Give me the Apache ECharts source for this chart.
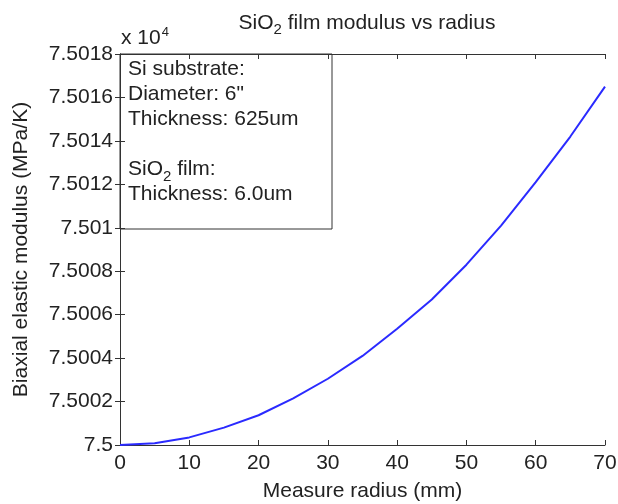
<!DOCTYPE html>
<html>
<head>
<meta charset="utf-8">
<script src="https://cdn.jsdelivr.net/npm/echarts@6/dist/echarts.min.js"></script>
<style>
  html, body { margin: 0; padding: 0; background: #fff; }
  #chart { width: 618px; height: 504px; }
</style>
</head>
<body>
<div id="chart"></div>
<script>
// radius in mm, modulus in units of 10^4 MPa/K
const radius = [0, 5, 10, 15, 20, 25, 30, 35, 40, 45, 50, 55, 60, 65, 70];
const modulus = [7.5, 7.500008, 7.500035, 7.50008, 7.500137, 7.500215, 7.500305,
  7.50041, 7.500535, 7.50067, 7.50083, 7.50101, 7.50121, 7.50142, 7.50165];
const xTicks = [0, 10, 20, 30, 40, 50, 60, 70];
const yTicks = [7.5, 7.5002, 7.5004, 7.5006, 7.5008, 7.501, 7.5012, 7.5014, 7.5016, 7.5018];
const infoLines = ['Si substrate:', 'Diameter: 6"', 'Thickness: 625um', '', '{t|SiO}{s|2}{t| film:}', 'Thickness: 6.0um'];

const FONT = 'Liberation Sans, Arial, sans-serif';
const INK = '#222';

const chart = echarts.init(document.getElementById('chart'));

const axisLine = { show: true, lineStyle: { color: '#333', width: 1 } };
const tickIn = { show: true, inside: true, length: 5, lineStyle: { color: '#333' } };

const option = {
  backgroundColor: '#fff',
  animation: false,
  textStyle: { fontFamily: FONT },
  title: {
    text: '{t|SiO}{s|2}{t| film modulus vs radius}',
    left: 362,
    top: 5,
    textAlign: 'center',
    textStyle: {
      fontWeight: 'normal',
      rich: {
        t: { fontFamily: FONT, fontSize: 21, fontWeight: 'normal', color: INK, lineHeight: 26 },
        s: { fontFamily: FONT, fontSize: 15, fontWeight: 'normal', color: INK, lineHeight: 26, padding: [14, 0, 0, 0] }
      }
    }
  },
  grid: { left: 120, right: 13, top: 54, bottom: 59, containLabel: false, outerBoundsMode: 'none' },
  xAxis: [{
    type: 'value',
    min: xTicks[0],
    max: xTicks[xTicks.length - 1],
    interval: 10,
    name: 'Measure radius (mm)',
    nameLocation: 'middle',
    nameGap: 36,
    nameTextStyle: { fontFamily: FONT, fontSize: 21, color: INK },
    axisLine,
    axisTick: tickIn,
    splitLine: { show: false },
    axisLabel: { fontFamily: FONT, fontSize: 21, color: INK, margin: 8 }
  }, {
    type: 'value',
    position: 'top',
    min: xTicks[0],
    max: xTicks[xTicks.length - 1],
    interval: 10,
    axisLine,
    axisTick: tickIn,
    splitLine: { show: false },
    axisLabel: { show: false }
  }],
  yAxis: [{
    type: 'value',
    min: yTicks[0],
    max: yTicks[yTicks.length - 1],
    interval: 0.0002,
    name: 'Biaxial elastic modulus (MPa/K)',
    nameLocation: 'middle',
    nameGap: 88,
    nameTextStyle: { fontFamily: FONT, fontSize: 21, color: INK },
    axisLine,
    axisTick: tickIn,
    splitLine: { show: false },
    axisLabel: {
      fontFamily: FONT, fontSize: 21, color: INK, margin: 7,
      formatter: v => String(+v.toFixed(4))
    }
  }, {
    type: 'value',
    position: 'right',
    min: yTicks[0],
    max: yTicks[yTicks.length - 1],
    interval: 0.0002,
    axisLine,
    axisTick: tickIn,
    splitLine: { show: false },
    axisLabel: { show: false }
  }],
  series: [{
    type: 'line',
    data: radius.map((r, i) => [r, modulus[i]]),
    showSymbol: false,
    smooth: false,
    lineStyle: { color: '#2a2aff', width: 2 },
    z: 3
  }],
  graphic: [
    {
      type: 'text',
      left: 121,
      top: 26,
      style: {
        text: '{t|x 10}{p|4}',
        rich: {
          t: { fontFamily: FONT, fontSize: 21, fill: INK, lineHeight: 24 },
          p: { fontFamily: FONT, fontSize: 13, fill: INK, lineHeight: 24, padding: [0, 0, 12, 1] }
        }
      }
    },
    {
      type: 'rect',
      shape: { x: 120, y: 54, width: 212, height: 175 },
      style: { fill: 'rgba(0,0,0,0)', stroke: '#333', lineWidth: 1 },
      z: 10
    },
    {
      type: 'text',
      left: 128,
      top: 59,
      z: 11,
      style: {
        text: infoLines.map(l => l.startsWith('{') ? l : (l ? '{t|' + l + '}' : '{g| }')).join('\n'),
        rich: {
          t: { fontFamily: FONT, fontSize: 21, fill: INK, lineHeight: 25 },
          g: { fontFamily: FONT, fontSize: 21, lineHeight: 25 },
          s: { fontFamily: FONT, fontSize: 15, fill: INK, lineHeight: 25, padding: [14, 0, 0, 0] }
        }
      }
    }
  ]
};

chart.setOption(option);
</script>
</body>
</html>
